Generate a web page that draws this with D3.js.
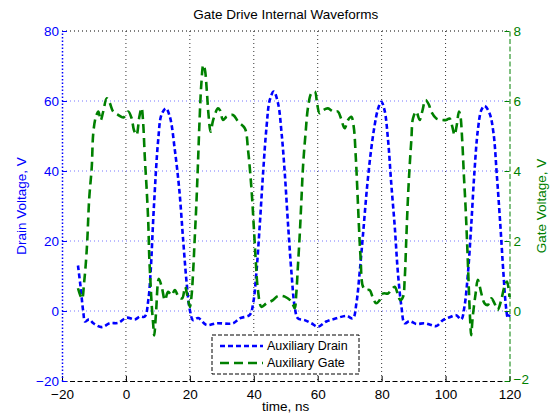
<!DOCTYPE html>
<html>
<head>
<meta charset="utf-8">
<script src="https://cdn.jsdelivr.net/npm/d3@7"></script>
<style>
  html, body { margin: 0; padding: 0; background: #fff; }
  svg { display: block; font-family: "Liberation Sans", Arial, Helvetica, sans-serif; }
</style>
</head>
<body>
<svg id="chart" width="552" height="419"></svg>
<script>
// Auxiliary drain voltage (V) versus time (ns)
const drainTime = [-15, -14.2, -13.3, -12.8, -11.5, -10.2, -7.6, -5, -2.4, 0.2, 2.8, 4.4, 5.9, 7.0, 7.7, 8.75, 10.1, 11.1, 12.5, 13.75, 15.3, 16.7, 17.9, 19, 20, 21, 22.6, 25.2, 28.3, 33.5, 35.6, 38.75, 39.8, 40.8, 41.9, 42.9, 44, 45, 46.25, 47.6, 48.7, 49.7, 50.7, 51.8, 52.8, 53.8, 55.9, 58, 60.1, 62.7, 65.8, 69, 71, 72.1, 73.1, 74.2, 75.5, 76.7, 77.8, 78.8, 79.9, 80.9, 82, 83, 84.1, 85.1, 86.2, 87.2, 88.75, 90.8, 93.4, 95.5, 97.1, 99.2, 101.25, 103.3, 104.9, 105.9, 107, 108, 109, 110.1, 111.2, 112.2, 113.75, 115, 116, 117.1, 118.1, 118.9, 119.5, 120];
const drainV = [13, 7, -0.6, -3, -2.4, -3.5, -4.6, -3.5, -3.4, -1.9, -2.4, -1.6, -1.6, 3.1, 10.8, 29.8, 48.9, 56, 57.9, 55.5, 46, 34.6, 20.3, 8, 0.3, -2.6, -2, -4, -3.5, -3.5, -2.1, -1.1, 2.2, 10.8, 25, 39.3, 52.7, 60.3, 62.7, 59.3, 50.8, 39.3, 25, 10.8, 1.2, -2.1, -2.6, -3.5, -4.5, -3, -2.1, -1.4, -2.1, 2.2, 10.8, 22.2, 36, 46, 53, 57.5, 59.8, 57.4, 48.9, 36.5, 24.1, 10.8, 1.2, -3.5, -2.9, -3.7, -3.5, -4, -4.3, -2.6, -1.8, -1.2, -2.4, 1.2, 10.8, 24.1, 39.3, 51.7, 57.4, 58.6, 56.5, 50.8, 39.3, 25, 10.8, 1.2, -2, -1];

// Auxiliary gate voltage (V) versus time (ns)
const gateTime = [-15, -14.3, -13.7, -13.1, -12.6, -12.1, -11.5, -10.7, -10.2, -9.4, -8.6, -7.9, -7.1, -6.0, -5, -4, -2.4, -0.8, 0.7, 1.8, 2.5, 3.3, 4.2, 4.9, 5.4, 5.9, 6.5, 7.0, 7.3, 7.7, 8.1, 8.5, 8.85, 9.4, 10.3, 11.2, 12.2, 13.2, 14.3, 15.3, 16.5, 17.6, 18.5, 19.2, 20.0, 20.5, 21.0, 21.5, 22.0, 22.5, 23.0, 23.6, 24.2, 24.7, 25.3, 25.8, 26.5, 27.3, 28.8, 29.4, 30.4, 31.5, 33.5, 35.1, 37.2, 38.2, 39.3, 40.0, 40.6, 41.3, 42.4, 44, 46, 47.6, 49.7, 51.8, 52.8, 53.3, 53.8, 54.4, 54.9, 55.4, 56.2, 57, 58, 59.1, 59.8, 60.6, 61.7, 63.2, 64.8, 66.3, 67.3, 68.4, 69.5, 70.5, 71.25, 71.9, 72.4, 72.9, 73.4, 74.2, 75.2, 76.25, 77.3, 78.3, 79.3, 80.4, 82, 83, 84.1, 85, 85.8, 86.7, 87.2, 87.7, 88.2, 88.75, 89.3, 89.8, 90.8, 91.9, 92.7, 93.75, 94.8, 95.5, 97.1, 98.7, 100.2, 101.25, 102.1, 102.8, 103.5, 104.2, 104.6, 105.2, 105.7, 106.25, 106.7, 107.1, 107.5, 107.8, 108, 108.5, 109.4, 110.1, 111.2, 112.2, 113.2, 114.3, 115.3, 116.3, 117.4, 118.4, 119.2, 120];
const gateV = [0.65, 0.45, 0.35, 0.8, 1.3, 2.0, 3.2, 4.1, 5.1, 5.55, 5.7, 5.45, 5.7, 6.08, 5.93, 5.7, 5.6, 5.53, 5.7, 5.5, 5.17, 5.03, 5.55, 5.8, 5.36, 4.4, 3.46, 2.5, 1.55, 0.79, 0.12, -0.35, -0.7, -0.07, 0.92, 0.69, 0.31, 0.55, 0.45, 0.6, 0.4, 0.36, 0.69, 0.45, 0.12, 0.41, 1.08, 2.03, 2.98, 4.12, 5.36, 6.5, 7.03, 6.9, 6.3, 5.65, 5.12, 5.46, 5.79, 5.74, 5.46, 5.55, 5.6, 5.41, 5.22, 4.6, 3.46, 2.41, 1.46, 0.6, 0.12, 0.22, 0.31, 0.43, 0.41, 0.27, 0.08, 0.5, 1.27, 2.22, 3.17, 4.12, 5.08, 5.84, 6.22, 6.27, 5.93, 5.65, 5.74, 5.79, 5.7, 5.7, 5.5, 5.22, 5.46, 5.55, 5.27, 4.41, 3.46, 2.41, 1.55, 0.69, 0.6, 0.6, 0.36, 0.22, 0.3, 0.5, 0.5, 0.6, 0.69, 0.5, 0.31, 0.41, 0.89, 2.03, 3.17, 4.12, 4.89, 5.5, 5.7, 5.46, 5.7, 6.03, 5.89, 5.7, 5.5, 5.46, 5.46, 5.5, 5.27, 5.03, 5.31, 5.7, 5.6, 4.89, 3.93, 2.98, 2.03, 1.08, 0.12, -0.45, -0.69, -0.16, 0.5, 0.89, 0.5, 0.22, 0.17, 0.36, 0.22, 0.03, 0.31, 0.69, 0.84, 0.4];

// Tick values
const timeTicks = [-20, 0, 20, 40, 60, 80, 100, 120];
const drainTicks = [-20, 0, 20, 40, 60, 80];
const gateTicks = [-2, 0, 2, 4, 6, 8];

const seriesNames = ["Auxiliary Drain", "Auxiliary Gate"];

const BLUE = "#0000ff", GREEN = "#008000";
const FONT = 13.5;

const svg = d3.select("#chart");
const plotLeft = 62, plotRight = 509.5, plotTop = 31, plotBottom = 381;

const x = d3.scaleLinear().domain([-20, 120]).range([plotLeft, plotRight]);
const yL = d3.scaleLinear().domain([-20, 80]).range([plotBottom, plotTop]);
const yR = d3.scaleLinear().domain([-2, 8]).range([plotBottom, plotTop]);

// grid: vertical dotted black, horizontal dotted blue
const grid = svg.append("g");
grid.selectAll("line.v").data(timeTicks.slice(1, -1)).join("line")
  .attr("x1", d => x(d)).attr("x2", d => x(d))
  .attr("y1", plotTop).attr("y2", plotBottom)
  .attr("stroke", "#333").attr("stroke-width", 1).attr("stroke-dasharray", "1,3");
grid.selectAll("line.h").data(drainTicks.slice(1, -1)).join("line")
  .attr("x1", plotLeft).attr("x2", plotRight)
  .attr("y1", d => yL(d)).attr("y2", d => yL(d))
  .attr("stroke", "#7777ff").attr("stroke-width", 1).attr("stroke-dasharray", "1,3");

// top frame edge, dotted
svg.append("line").attr("x1", plotLeft).attr("x2", plotRight).attr("y1", plotTop).attr("y2", plotTop)
  .attr("stroke", "#000").attr("stroke-dasharray", "1,3");

// axes
const xAxis = svg.append("g").attr("transform", `translate(0,${plotBottom})`)
  .call(d3.axisBottom(x).tickValues(timeTicks).tickSize(-5).tickSizeOuter(0).tickPadding(8));
xAxis.select(".domain").attr("stroke", "#000").attr("stroke-dasharray", "5,2.5");
xAxis.selectAll("text").attr("font-size", FONT).attr("fill", "#000");

const lAxis = svg.append("g").attr("transform", `translate(${plotLeft},0)`)
  .call(d3.axisLeft(yL).tickValues(drainTicks).tickSize(-5).tickSizeOuter(0).tickPadding(3));
lAxis.select(".domain").attr("stroke", BLUE).attr("stroke-width", 1.5).attr("stroke-dasharray", "1.5,2");
lAxis.selectAll(".tick line").attr("stroke", BLUE);
lAxis.selectAll("text").attr("font-size", FONT).attr("fill", BLUE);

const rAxis = svg.append("g").attr("transform", `translate(${plotRight},0)`)
  .call(d3.axisRight(yR).tickValues(gateTicks).tickSize(-5).tickSizeOuter(0).tickPadding(4));
rAxis.select(".domain").attr("stroke", GREEN).attr("stroke-dasharray", "5,2.5");
rAxis.selectAll(".tick line").attr("stroke", GREEN);
rAxis.selectAll("text").attr("font-size", FONT).attr("fill", GREEN);
// lift the lowest gate label a touch so it clears the time labels below
rAxis.selectAll(".tick").filter(d => d === gateTicks[0]).select("text").attr("dy", "0.2em");

// traces
const curve = d3.curveCatmullRom.alpha(0.5);
const drainLine = d3.line().x(d => x(d[0])).y(d => yL(d[1])).curve(curve);
const gateLine = d3.line().x(d => x(d[0])).y(d => yR(d[1])).curve(curve);

svg.append("path").datum(d3.zip(drainTime, drainV)).attr("d", drainLine)
  .attr("fill", "none").attr("stroke", BLUE).attr("stroke-width", 2.6)
  .attr("stroke-dasharray", "5,3");
svg.append("path").datum(d3.zip(gateTime, gateV)).attr("d", gateLine)
  .attr("fill", "none").attr("stroke", GREEN).attr("stroke-width", 2.6)
  .attr("stroke-dasharray", "9,5");

// titles
svg.append("text").attr("x", (plotLeft + plotRight) / 2).attr("y", 19)
  .attr("text-anchor", "middle").attr("font-size", FONT).text("Gate Drive Internal Waveforms");
svg.append("text").attr("x", (plotLeft + plotRight) / 2).attr("y", 411)
  .attr("text-anchor", "middle").attr("font-size", FONT).text("time, ns");
svg.append("text").attr("transform", `translate(26,${(plotTop + plotBottom) / 2}) rotate(-90)`)
  .attr("text-anchor", "middle").attr("font-size", FONT).attr("fill", BLUE).text("Drain Voltage, V");
svg.append("text").attr("transform", `translate(546,${(plotTop + plotBottom) / 2}) rotate(-90)`)
  .attr("text-anchor", "middle").attr("font-size", FONT).attr("fill", GREEN).text("Gate Voltage, V");

// legend
const lg = svg.append("g");
lg.append("rect").attr("x", 212).attr("y", 335).attr("width", 147).attr("height", 39)
  .attr("fill", "#fff").attr("stroke", "#000").attr("stroke-dasharray", "4,2");
const legendStyles = [
  { color: BLUE, dash: "5,3" },
  { color: GREEN, dash: "9,5" }
];
seriesNames.forEach((name, i) => {
  const cy = 346 + i * 17;
  lg.append("line").attr("x1", 220).attr("x2", 263).attr("y1", cy).attr("y2", cy)
    .attr("stroke", legendStyles[i].color).attr("stroke-width", 2.6)
    .attr("stroke-dasharray", legendStyles[i].dash);
  lg.append("text").attr("x", 267).attr("y", cy).attr("dy", "0.35em")
    .attr("font-size", 12.5).text(name);
});
</script>
</body>
</html>
